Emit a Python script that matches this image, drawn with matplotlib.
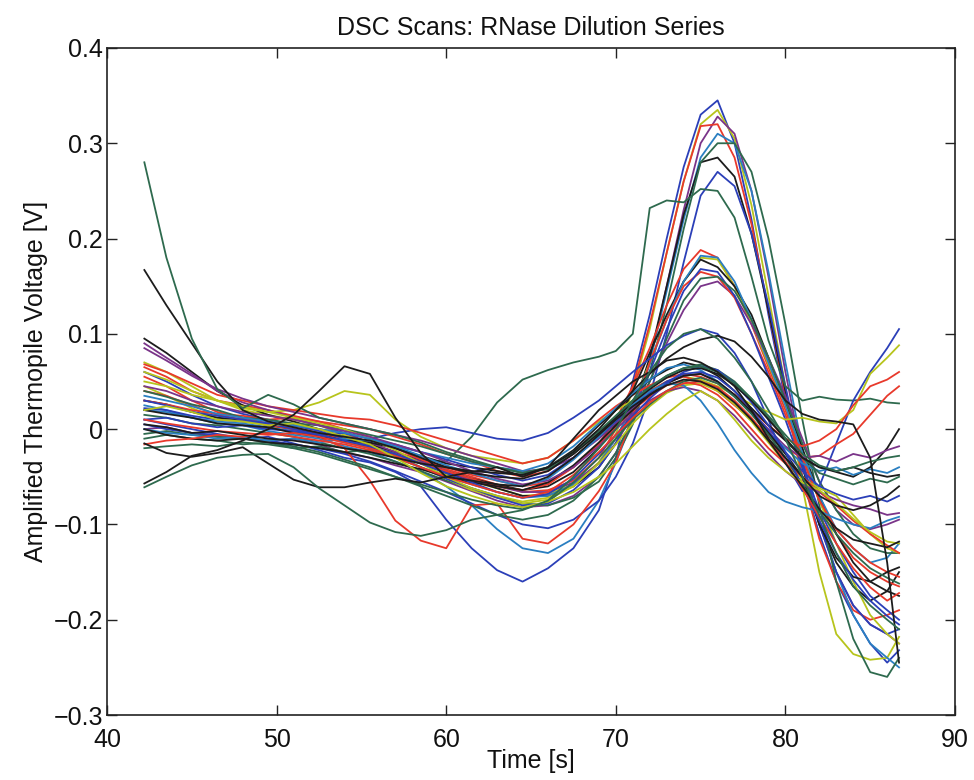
import matplotlib
matplotlib.use("Agg")
import matplotlib.pyplot as plt

# ---- time grid (s) ----
time_s = [42.2, 43.5, 45, 46.5, 48, 49.5, 51, 52.5, 54, 55.5, 57, 58.5, 60, 61.5, 63, 64.5,
          66, 67.5, 69, 70, 71, 72, 73, 74, 75, 76, 77, 78, 79, 80, 81, 82, 83, 84, 85, 86, 86.7]

# ---- high-peak scans ----
h1 = [0.010, 0.005, 0.000, -0.005, -0.010, -0.008, -0.015, -0.022, -0.030, -0.035, -0.045, -0.060, -0.095, -0.125, -0.148, -0.160, -0.146, -0.125, -0.085, -0.030, 0.050, 0.120, 0.200, 0.275, 0.330, 0.345, 0.300, 0.220, 0.120, 0.030, -0.050, -0.110, -0.160, -0.195, -0.225, -0.245, -0.232]
h2 = [0.045, 0.035, 0.022, 0.012, 0.008, 0.004, 0.000, -0.006, -0.012, -0.020, -0.030, -0.040, -0.048, -0.055, -0.062, -0.070, -0.068, -0.058, -0.035, -0.005, 0.040, 0.105, 0.185, 0.260, 0.320, 0.335, 0.305, 0.235, 0.140, 0.045, -0.060, -0.150, -0.215, -0.236, -0.242, -0.240, -0.218]
h3 = [0.000, 0.002, -0.004, -0.008, -0.010, -0.012, -0.010, -0.016, -0.025, -0.030, -0.038, -0.045, -0.055, -0.065, -0.075, -0.082, -0.080, -0.070, -0.050, -0.025, 0.010, 0.070, 0.150, 0.230, 0.300, 0.328, 0.310, 0.250, 0.160, 0.060, -0.030, -0.100, -0.150, -0.185, -0.205, -0.215, -0.225]
h4 = [0.065, 0.055, 0.040, 0.030, 0.025, 0.020, 0.014, 0.008, 0.000, -0.008, -0.020, -0.032, -0.042, -0.050, -0.058, -0.066, -0.064, -0.054, -0.030, 0.000, 0.045, 0.110, 0.185, 0.260, 0.318, 0.320, 0.285, 0.215, 0.125, 0.035, -0.050, -0.115, -0.160, -0.190, -0.200, -0.195, -0.190]
h5 = [0.020, 0.018, 0.012, 0.006, 0.004, -0.002, -0.006, -0.010, -0.018, -0.024, -0.034, -0.044, -0.060, -0.080, -0.105, -0.125, -0.130, -0.115, -0.075, -0.035, 0.010, 0.070, 0.145, 0.220, 0.285, 0.310, 0.300, 0.250, 0.165, 0.070, -0.020, -0.095, -0.150, -0.195, -0.225, -0.240, -0.250]
h6 = [0.030, 0.026, 0.018, 0.012, 0.010, 0.004, 0.000, -0.004, -0.012, -0.018, -0.028, -0.036, -0.046, -0.054, -0.062, -0.070, -0.070, -0.060, -0.040, -0.015, 0.020, 0.075, 0.150, 0.225, 0.280, 0.285, 0.265, 0.205, 0.125, 0.040, -0.040, -0.100, -0.140, -0.165, -0.180, -0.170, -0.150]
h7 = [0.005, 0.000, -0.004, -0.006, -0.010, -0.012, -0.016, -0.020, -0.026, -0.034, -0.044, -0.055, -0.066, -0.078, -0.090, -0.100, -0.104, -0.095, -0.075, -0.050, -0.015, 0.035, 0.100, 0.175, 0.245, 0.270, 0.255, 0.205, 0.130, 0.045, -0.035, -0.100, -0.150, -0.185, -0.205, -0.215, -0.210]
h8 = [0.015, 0.012, 0.006, 0.004, 0.000, -0.004, -0.008, -0.014, -0.020, -0.026, -0.034, -0.044, -0.054, -0.062, -0.070, -0.078, -0.080, -0.072, -0.055, -0.030, 0.005, 0.060, 0.130, 0.210, 0.280, 0.300, 0.300, 0.270, 0.200, 0.110, 0.010, -0.080, -0.160, -0.220, -0.255, -0.260, -0.240]
h9 = [-0.010, -0.006, -0.010, -0.012, -0.016, -0.014, -0.020, -0.018, -0.024, -0.022, -0.028, -0.032, -0.034, -0.008, 0.028, 0.052, 0.062, 0.070, 0.076, 0.082, 0.100, 0.232, 0.240, 0.238, 0.252, 0.250, 0.222, 0.160, 0.093, 0.045, 0.030, 0.034, 0.031, 0.030, 0.032, 0.028, 0.027]

# ---- mid-peak scans ----
m1 = [0.055, 0.045, 0.030, 0.018, 0.012, 0.006, 0.002, -0.004, -0.010, -0.016, -0.024, -0.032, -0.040, -0.048, -0.054, -0.060, -0.056, -0.040, -0.015, 0.010, 0.045, 0.085, 0.130, 0.168, 0.188, 0.180, 0.150, 0.110, 0.065, 0.020, -0.030, -0.075, -0.110, -0.135, -0.150, -0.160, -0.165]
m2 = [0.070, 0.060, 0.045, 0.030, 0.020, 0.015, 0.010, 0.004, -0.006, -0.014, -0.026, -0.040, -0.052, -0.064, -0.072, -0.078, -0.074, -0.060, -0.035, -0.010, 0.025, 0.070, 0.115, 0.155, 0.180, 0.178, 0.150, 0.112, 0.068, 0.025, -0.025, -0.075, -0.120, -0.160, -0.195, -0.215, -0.225]
m3 = [0.095, 0.080, 0.060, 0.040, 0.025, 0.015, 0.008, 0.000, -0.008, -0.016, -0.024, -0.034, -0.044, -0.052, -0.058, -0.064, -0.060, -0.045, -0.020, 0.005, 0.040, 0.080, 0.120, 0.155, 0.178, 0.170, 0.150, 0.120, 0.075, 0.030, -0.020, -0.070, -0.110, -0.140, -0.160, -0.170, -0.175]
m4 = [0.025, 0.020, 0.012, 0.008, 0.006, 0.002, -0.002, -0.008, -0.014, -0.020, -0.030, -0.040, -0.050, -0.058, -0.066, -0.072, -0.070, -0.058, -0.036, -0.010, 0.025, 0.068, 0.115, 0.155, 0.182, 0.180, 0.155, 0.115, 0.070, 0.025, -0.025, -0.070, -0.105, -0.125, -0.140, -0.135, -0.120]
m5 = [0.090, 0.075, 0.058, 0.040, 0.028, 0.020, 0.012, 0.004, -0.004, -0.014, -0.024, -0.034, -0.044, -0.054, -0.060, -0.066, -0.066, -0.056, -0.036, -0.015, 0.015, 0.050, 0.090, 0.125, 0.150, 0.155, 0.140, 0.110, 0.075, 0.035, -0.010, -0.055, -0.085, -0.100, -0.105, -0.100, -0.095]
m6 = [0.040, 0.035, 0.025, 0.015, 0.010, 0.004, 0.000, -0.008, -0.020, -0.054, -0.096, -0.117, -0.125, -0.080, -0.078, -0.115, -0.120, -0.100, -0.065, -0.035, 0.015, 0.070, 0.115, 0.150, 0.165, 0.160, 0.138, 0.100, 0.060, 0.015, -0.030, -0.075, -0.105, -0.125, -0.140, -0.150, -0.155]
m7 = [0.060, 0.050, 0.036, 0.024, 0.016, 0.010, 0.004, -0.002, -0.010, -0.018, -0.028, -0.040, -0.052, -0.062, -0.072, -0.080, -0.078, -0.064, -0.040, -0.015, 0.020, 0.060, 0.105, 0.145, 0.168, 0.165, 0.140, 0.100, 0.055, 0.010, -0.040, -0.085, -0.120, -0.150, -0.175, -0.190, -0.200]
m8 = [-0.005, -0.002, -0.006, -0.008, -0.010, -0.014, -0.018, -0.024, -0.032, -0.040, -0.050, -0.060, -0.070, -0.080, -0.090, -0.095, -0.090, -0.075, -0.050, -0.025, 0.010, 0.050, 0.095, 0.135, 0.158, 0.160, 0.145, 0.115, 0.075, 0.030, -0.015, -0.055, -0.085, -0.110, -0.125, -0.130, -0.130]

# ---- low-peak scans ----
l1 = [0.010, 0.012, 0.006, 0.002, 0.004, 0.000, -0.002, -0.006, -0.004, -0.010, -0.004, 0.000, 0.002, -0.004, -0.010, -0.012, -0.004, 0.012, 0.030, 0.045, 0.060, 0.074, 0.088, 0.098, 0.105, 0.100, 0.080, 0.050, 0.010, -0.035, -0.065, -0.060, -0.015, 0.030, 0.060, 0.085, 0.105]
l2 = [0.050, 0.045, 0.036, 0.030, 0.022, 0.018, 0.020, 0.028, 0.040, 0.036, 0.010, -0.008, -0.020, -0.028, -0.032, -0.036, -0.030, -0.012, 0.008, 0.020, 0.030, 0.040, 0.050, 0.055, 0.052, 0.045, 0.036, 0.026, 0.018, 0.010, 0.012, 0.008, 0.006, 0.020, 0.058, 0.075, 0.088]
l3 = [0.068, 0.060, 0.048, 0.036, 0.030, 0.024, 0.020, 0.016, 0.012, 0.010, 0.004, -0.004, -0.012, -0.020, -0.028, -0.036, -0.030, -0.012, 0.010, 0.024, 0.036, 0.046, 0.054, 0.058, 0.055, 0.048, 0.036, 0.020, 0.004, -0.010, -0.018, -0.012, 0.000, 0.025, 0.045, 0.052, 0.060]
l4 = [0.030, 0.026, 0.020, 0.016, 0.014, 0.010, 0.012, 0.008, 0.004, 0.000, -0.008, -0.016, -0.026, -0.034, -0.044, -0.050, -0.044, -0.026, -0.004, 0.012, 0.028, 0.040, 0.050, 0.055, 0.050, 0.040, 0.025, 0.010, -0.008, -0.020, -0.030, -0.028, -0.016, -0.005, 0.015, 0.035, 0.045]
l5 = [0.020, 0.016, 0.012, 0.006, 0.004, 0.002, -0.004, -0.008, -0.012, -0.014, -0.020, -0.028, -0.036, -0.040, -0.044, -0.048, -0.040, -0.022, 0.004, 0.020, 0.036, 0.052, 0.062, 0.070, 0.066, 0.056, 0.040, 0.022, 0.004, -0.012, -0.030, -0.040, -0.045, -0.050, -0.040, -0.020, 0.000]
l6 = [0.085, 0.072, 0.056, 0.042, 0.032, 0.024, 0.018, 0.012, 0.006, 0.000, -0.006, -0.012, -0.020, -0.028, -0.036, -0.044, -0.042, -0.030, -0.010, 0.006, 0.022, 0.036, 0.048, 0.056, 0.058, 0.050, 0.036, 0.018, 0.000, -0.018, -0.030, -0.028, -0.034, -0.026, -0.030, -0.022, -0.018]
l7 = [0.000, -0.004, -0.006, -0.010, -0.008, -0.012, -0.010, -0.014, -0.010, -0.012, -0.018, -0.024, -0.030, -0.036, -0.040, -0.044, -0.036, -0.018, 0.006, 0.022, 0.038, 0.052, 0.064, 0.068, 0.062, 0.050, 0.034, 0.016, -0.004, -0.020, -0.036, -0.044, -0.040, -0.048, -0.042, -0.046, -0.040]
l8 = [0.040, 0.034, 0.026, 0.020, 0.012, 0.010, 0.006, 0.004, 0.000, -0.006, -0.012, -0.018, -0.026, -0.034, -0.040, -0.046, -0.042, -0.026, -0.004, 0.014, 0.030, 0.044, 0.056, 0.064, 0.068, 0.062, 0.050, 0.032, 0.012, -0.010, -0.030, -0.046, -0.052, -0.058, -0.052, -0.056, -0.050]
l9 = [0.022, 0.020, 0.014, 0.010, 0.008, 0.006, 0.004, 0.000, -0.004, -0.010, -0.016, -0.024, -0.032, -0.040, -0.048, -0.054, -0.048, -0.030, -0.008, 0.008, 0.024, 0.038, 0.050, 0.058, 0.060, 0.054, 0.040, 0.020, -0.002, -0.024, -0.044, -0.060, -0.068, -0.074, -0.070, -0.076, -0.070]
l10 = [0.060, 0.052, 0.040, 0.030, 0.024, 0.018, 0.012, 0.006, 0.000, -0.010, -0.022, -0.036, -0.050, -0.062, -0.070, -0.076, -0.072, -0.060, -0.036, -0.016, 0.006, 0.024, 0.038, 0.046, 0.048, 0.040, 0.026, 0.008, -0.014, -0.036, -0.052, -0.062, -0.070, -0.090, -0.110, -0.125, -0.130]
l11 = [0.010, 0.006, 0.002, -0.002, -0.004, -0.006, -0.004, -0.008, -0.014, -0.020, -0.028, -0.036, -0.044, -0.052, -0.060, -0.064, -0.058, -0.040, -0.016, 0.002, 0.020, 0.034, 0.046, 0.050, 0.046, 0.036, 0.020, 0.000, -0.020, -0.036, -0.050, -0.066, -0.080, -0.096, -0.110, -0.122, -0.130]
l12 = [0.000, -0.006, -0.010, -0.012, -0.010, -0.014, -0.016, -0.020, -0.024, -0.030, -0.036, -0.042, -0.050, -0.056, -0.060, -0.064, -0.056, -0.038, -0.014, 0.004, 0.020, 0.036, 0.048, 0.056, 0.058, 0.050, 0.036, 0.018, -0.004, -0.026, -0.050, -0.100, -0.135, -0.155, -0.160, -0.150, -0.145]
l13 = [0.045, 0.040, 0.030, 0.024, 0.018, 0.014, 0.010, 0.004, -0.002, -0.008, -0.016, -0.024, -0.034, -0.044, -0.052, -0.058, -0.054, -0.040, -0.018, 0.000, 0.016, 0.030, 0.040, 0.044, 0.040, 0.030, 0.014, -0.006, -0.026, -0.044, -0.058, -0.066, -0.074, -0.080, -0.084, -0.090, -0.088]
l14 = [0.035, 0.030, 0.024, 0.016, 0.012, 0.008, 0.004, 0.000, -0.004, -0.010, -0.018, -0.028, -0.038, -0.046, -0.054, -0.060, -0.052, -0.032, -0.008, 0.010, 0.026, 0.040, 0.048, 0.046, 0.030, 0.006, -0.022, -0.046, -0.066, -0.076, -0.082, -0.086, -0.094, -0.100, -0.104, -0.096, -0.092]
l15 = [-0.020, -0.018, -0.016, -0.018, -0.014, -0.016, -0.020, -0.026, -0.034, -0.042, -0.050, -0.058, -0.066, -0.074, -0.080, -0.084, -0.076, -0.056, -0.030, -0.010, 0.010, 0.026, 0.040, 0.050, 0.054, 0.048, 0.034, 0.016, -0.006, -0.030, -0.058, -0.086, -0.110, -0.130, -0.146, -0.156, -0.162]
l16 = [0.030, 0.025, 0.018, 0.014, 0.010, 0.006, 0.000, -0.006, -0.012, -0.018, -0.026, -0.036, -0.046, -0.056, -0.066, -0.072, -0.068, -0.052, -0.026, -0.006, 0.014, 0.032, 0.048, 0.060, 0.066, 0.062, 0.048, 0.028, 0.004, -0.024, -0.060, -0.096, -0.130, -0.158, -0.180, -0.196, -0.205]
l17 = [-0.016, -0.012, -0.010, -0.006, -0.008, -0.004, -0.008, -0.012, -0.016, -0.022, -0.030, -0.040, -0.050, -0.058, -0.066, -0.072, -0.066, -0.048, -0.024, -0.006, 0.012, 0.028, 0.040, 0.048, 0.050, 0.044, 0.030, 0.012, -0.010, -0.034, -0.062, -0.092, -0.120, -0.146, -0.166, -0.180, -0.172]
l18 = [0.020, 0.024, 0.018, 0.010, 0.008, 0.004, 0.006, 0.000, -0.008, -0.016, -0.030, -0.046, -0.060, -0.070, -0.078, -0.082, -0.076, -0.066, -0.050, -0.036, -0.018, 0.000, 0.016, 0.030, 0.040, 0.030, 0.010, -0.012, -0.030, -0.044, -0.056, -0.064, -0.078, -0.094, -0.108, -0.118, -0.120]
l19 = [0.167, 0.130, 0.090, 0.050, 0.020, 0.008, 0.002, -0.004, -0.008, -0.012, -0.020, -0.030, -0.040, -0.046, -0.050, -0.052, -0.044, -0.026, -0.004, 0.012, 0.028, 0.042, 0.054, 0.062, 0.064, 0.058, 0.046, 0.030, 0.010, -0.010, -0.030, -0.040, -0.044, -0.040, -0.046, -0.050, -0.048]
l20 = [0.280, 0.180, 0.095, 0.042, 0.022, 0.036, 0.026, 0.012, 0.006, 0.000, -0.006, -0.014, -0.024, -0.032, -0.040, -0.046, -0.040, -0.024, -0.002, 0.014, 0.030, 0.044, 0.056, 0.064, 0.066, 0.060, 0.048, 0.032, 0.014, -0.006, -0.026, -0.038, -0.044, -0.040, -0.034, -0.030, -0.028]
l21 = [-0.057, -0.045, -0.028, -0.022, -0.012, 0.000, 0.015, 0.040, 0.066, 0.058, 0.012, -0.025, -0.050, -0.045, -0.040, -0.050, -0.040, -0.010, 0.020, 0.035, 0.050, 0.060, 0.072, 0.075, 0.070, 0.060, 0.045, 0.020, -0.010, -0.030, -0.050, -0.070, -0.080, -0.085, -0.080, -0.070, -0.060]
l22 = [0.005, 0.002, -0.004, -0.002, -0.006, -0.010, -0.012, -0.016, -0.020, -0.024, -0.030, -0.036, -0.040, -0.044, -0.046, -0.048, -0.040, -0.024, 0.000, 0.020, 0.040, 0.058, 0.074, 0.086, 0.094, 0.098, 0.092, 0.076, 0.055, 0.030, 0.016, 0.010, 0.008, 0.005, -0.030, -0.140, -0.245]
l23 = [-0.015, -0.025, -0.029, -0.025, -0.019, -0.036, -0.053, -0.061, -0.061, -0.056, -0.052, -0.056, -0.050, -0.054, -0.058, -0.060, -0.050, -0.030, -0.006, 0.010, 0.024, 0.036, 0.046, 0.052, 0.050, 0.042, 0.028, 0.010, -0.012, -0.036, -0.060, -0.084, -0.104, -0.116, -0.120, -0.124, -0.118]
l24 = [-0.061, -0.050, -0.038, -0.030, -0.027, -0.026, -0.040, -0.062, -0.080, -0.098, -0.108, -0.112, -0.106, -0.095, -0.090, -0.085, -0.075, -0.050, -0.020, 0.000, 0.030, 0.060, 0.085, 0.100, 0.105, 0.095, 0.075, 0.050, 0.020, -0.010, -0.050, -0.090, -0.130, -0.165, -0.185, -0.200, -0.210]

series = [h1, h2, h3, h4, h5, h6, h7, h8, h9,
          m1, m2, m3, m4, m5, m6, m7, m8,
          l1, l2, l3, l4, l5, l6, l7, l8, l9, l10, l11, l12,
          l13, l14, l15, l16, l17, l18, l19, l20, l21, l22, l23, l24]
series_color_keys = ['b', 'y', 'm', 'r', 'c', 'k', 'b', 'g', 'g',
                     'r', 'y', 'k', 'c', 'm', 'r', 'b', 'g',
                     'b', 'y', 'r', 'r', 'k', 'm', 'c', 'g', 'b', 'y', 'r', 'k',
                     'm', 'c', 'g', 'b', 'r', 'y', 'k', 'g', 'k', 'k', 'k', 'g']

palette = {'b': '#2b3fb8', 'g': '#2e6a4e', 'r': '#e8392b', 'c': '#2a7fc1',
           'm': '#7a3489', 'y': '#b7c41c', 'k': '#1c1c1c'}

plt.rcParams['font.family'] = ['Liberation Sans', 'DejaVu Sans']

fig = plt.figure(figsize=(9.74, 7.80), dpi=100)
ax = fig.add_axes([0.1099, 0.0833, 0.8706, 0.8552])

for vals, key in zip(series, series_color_keys):
    ax.plot(time_s, vals, color=palette[key], lw=1.3, solid_joinstyle='round')

ax.set_xlim(40, 90)
ax.set_ylim(-0.3, 0.4)
ax.set_xticks([40, 50, 60, 70, 80, 90])
ax.set_yticks([-0.3, -0.2, -0.1, 0, 0.1, 0.2, 0.3, 0.4])
ax.set_yticklabels(['\u22120.3', '\u22120.2', '\u22120.1', '0', '0.1', '0.2', '0.3', '0.4'])
ax.tick_params(direction='in', length=7, width=1.0, top=True, right=True,
               labelsize=18, pad=3, color='#222222', labelcolor='#111111')
ax.tick_params(axis='x', pad=9)
for s in ax.spines.values():
    s.set_linewidth(1.2)
    s.set_color('#222222')

ax.set_title('DSC Scans: RNase Dilution Series', fontsize=18, pad=9, color='#111111')
ax.set_xlabel('Time [s]', fontsize=18, labelpad=-2, color='#111111')
ax.set_ylabel('Amplified Thermopile Voltage [V]', fontsize=18, labelpad=4, color='#111111')

fig.savefig('out.png', dpi=100)
